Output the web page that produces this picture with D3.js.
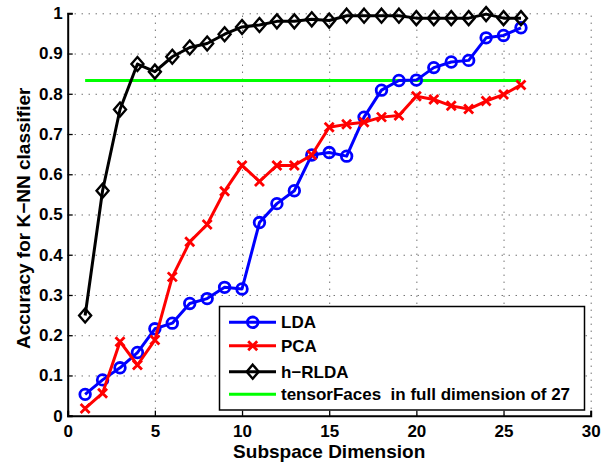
<!DOCTYPE html>
<html>
<head>
<meta charset="utf-8">
<script src="https://cdn.jsdelivr.net/npm/d3@7"></script>
<style>
  body { margin: 0; background: #fff; }
  text { font-family: "Liberation Sans", Arial, sans-serif; font-weight: bold; fill: #000; white-space: pre; }
</style>
</head>
<body>
<div id="chart"></div>
<script>
// data
const dims = d3.range(1, 27);
const ldaValues = [0.053, 0.089, 0.119, 0.157, 0.216, 0.230, 0.279, 0.291, 0.319, 0.315,
  0.480, 0.527, 0.559, 0.648, 0.654, 0.645, 0.742, 0.809, 0.833, 0.834,
  0.865, 0.879, 0.883, 0.939, 0.945, 0.964];
const pcaValues = [0.018, 0.056, 0.184, 0.126, 0.188, 0.345, 0.432, 0.475, 0.558, 0.622,
  0.582, 0.622, 0.622, 0.648, 0.717, 0.724, 0.729, 0.742, 0.746, 0.794,
  0.786, 0.770, 0.762, 0.782, 0.798, 0.822];
const hrldaValues = [0.249, 0.559, 0.761, 0.874, 0.855, 0.892, 0.915, 0.925, 0.948, 0.966,
  0.971, 0.980, 0.980, 0.985, 0.982, 0.994, 0.994, 0.994, 0.994, 0.988,
  0.988, 0.988, 0.988, 0.998, 0.988, 0.988];
const tensorFaces = 0.833;
const tensorRange = [1, 26];
const xTicks = [0, 5, 10, 15, 20, 25, 30];
const yTicks = [0, 0.1, 0.2, 0.3, 0.4, 0.5, 0.6, 0.7, 0.8, 0.9, 1];
const seriesNames = ["LDA", "PCA", "h\u2212RLDA", "tensorFaces  in full dimension of 27"];

const width = 609, height = 463;
const margin = { top: 13.3, right: 18.3, bottom: 47.3, left: 67.7 };

const svg = d3.select("#chart").append("svg")
  .attr("width", width)
  .attr("height", height);

const x = d3.scaleLinear().domain([0, 30]).range([margin.left, width - margin.right]);
const y = d3.scaleLinear().domain([0, 1]).range([height - margin.bottom, margin.top]);

// dotted grid
const grid = svg.append("g")
  .attr("stroke", "#333")
  .attr("stroke-width", 1)
  .attr("stroke-dasharray", "1,6");
grid.selectAll(".gx").data(xTicks.slice(1)).enter().append("line")
  .attr("x1", d => x(d) + 0.5).attr("x2", d => x(d) + 0.5)
  .attr("y1", y(0)).attr("y2", y(1));
grid.selectAll(".gy").data(yTicks.slice(1)).enter().append("line")
  .attr("y1", d => y(d) + 0.5).attr("y2", d => y(d) + 0.5)
  .attr("x1", x(0)).attr("x2", x(30));

// axes
const xAxis = d3.axisBottom(x).tickValues(xTicks).tickSize(-5).tickPadding(9).tickFormat(d3.format("d"));
const yAxis = d3.axisLeft(y).tickValues(yTicks).tickSize(-5).tickPadding(5).tickFormat(d => d === 0 || d === 1 ? d3.format("d")(d) : d3.format(".1f")(d));

const gx = svg.append("g").attr("transform", `translate(0,${y(0)})`).call(xAxis);
const gy = svg.append("g").attr("transform", `translate(${x(0)},0)`).call(yAxis);
[gx, gy].forEach(g => {
  g.select(".domain").attr("stroke", "#000").attr("stroke-width", 2);
  g.selectAll(".tick line").attr("stroke", "#000").attr("stroke-width", 1.3);
  g.selectAll(".tick text").style("font-size", "17px").style("font-family", "Liberation Sans, Arial, sans-serif").style("font-weight", "bold");
});

// axis labels
svg.append("text")
  .attr("x", x(15))
  .attr("y", 458)
  .attr("text-anchor", "middle")
  .style("font-size", "19px")
  .text("Subspace Dimension");
svg.append("text")
  .attr("transform", `translate(30,218.3) rotate(-90)`)
  .attr("text-anchor", "middle")
  .style("font-size", "19px")
  .text("Accuracy for K\u2212NN classifier");

const line = d3.line().x((d, i) => x(dims[i])).y(d => y(d));

// markers
function circleMarker(g, cx, cy, color) {
  g.append("circle").attr("cx", cx).attr("cy", cy).attr("r", 5.3)
    .attr("fill", "none").attr("stroke", color).attr("stroke-width", 2.8);
}
function crossMarker(g, cx, cy, color) {
  const s = 4.5;
  g.append("path")
    .attr("d", `M${cx - s},${cy - s}L${cx + s},${cy + s}M${cx - s},${cy + s}L${cx + s},${cy - s}`)
    .attr("stroke", color).attr("stroke-width", 2.8).attr("fill", "none");
}
function diamondMarker(g, cx, cy, color) {
  const w = 6, h = 7;
  g.append("path")
    .attr("d", `M${cx},${cy - h}L${cx + w},${cy}L${cx},${cy + h}L${cx - w},${cy}Z`)
    .attr("stroke", color).attr("stroke-width", 2.4).attr("fill", "none");
}

// tensorFaces reference line
svg.append("line")
  .attr("x1", x(tensorRange[0])).attr("x2", x(tensorRange[1]))
  .attr("y1", y(tensorFaces)).attr("y2", y(tensorFaces))
  .attr("stroke", "#00ff00").attr("stroke-width", 3);

const series = [
  { values: ldaValues, color: "#0000ff", marker: circleMarker },
  { values: pcaValues, color: "#ff0000", marker: crossMarker },
  { values: hrldaValues, color: "#000000", marker: diamondMarker }
];

series.forEach(s => {
  const g = svg.append("g");
  g.append("path")
    .attr("d", line(s.values))
    .attr("fill", "none")
    .attr("stroke", s.color)
    .attr("stroke-width", 3)
    .attr("stroke-linejoin", "round");
  s.values.forEach((v, i) => s.marker(g, x(dims[i]), y(v), s.color));
});

// legend
const legend = svg.append("g");
legend.append("rect")
  .attr("x", 219.5).attr("y", 306.5)
  .attr("width", 365).attr("height", 103.5)
  .attr("fill", "#fff").attr("stroke", "#000").attr("stroke-width", 1.5);
const rowsY = [322.3, 345.7, 371.7, 394.3];
const legendColors = ["#0000ff", "#ff0000", "#000000", "#00ff00"];
const legendMarkers = [circleMarker, crossMarker, diamondMarker, null];
seriesNames.forEach((name, i) => {
  legend.append("line")
    .attr("x1", 229).attr("x2", 276)
    .attr("y1", rowsY[i]).attr("y2", rowsY[i])
    .attr("stroke", legendColors[i]).attr("stroke-width", 3);
  if (legendMarkers[i]) legendMarkers[i](legend, 252.7, rowsY[i], legendColors[i]);
  legend.append("text")
    .attr("x", 281)
    .attr("y", rowsY[i])
    .attr("dy", "0.36em")
    .style("font-size", "17px")
    .text(name);
});
</script>
</body>
</html>
